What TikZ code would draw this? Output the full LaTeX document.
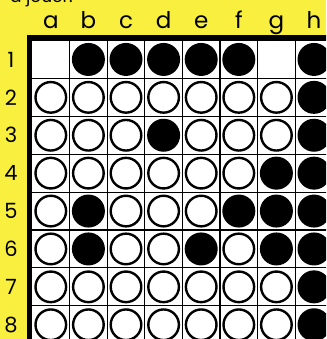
\documentclass[tikz,border=0pt]{standalone}
\usepackage{fontspec}
\setmainfont{Poppins}
\definecolor{cardyellow}{RGB}{249,239,62}
\tikzset{
  whitedisk/.style={circle, draw=black, fill=white, line width=2.4pt,
    minimum size=30.6pt, inner sep=0pt},
  blackdisk/.style={circle, fill=black, minimum size=33pt, inner sep=0pt},
  coordlabel/.style={font=\fontsize{21}{21}\selectfont, text=black, inner sep=0pt},
  gridline/.style={line width=1.1pt, black}
}
\begin{document}
\begin{tikzpicture}[x=1pt, y=-1pt]
  \useasboundingbox (0,0) rectangle (326,339);
  \clip (0,0) rectangle (326,339);
  \fill[cardyellow] (0,0) rectangle (326,339);
  %% 0 = empty square, 1 = white disk, 2 = black disk; rows 1..8, columns a..h
  \def\board{{
    {0, 2, 2, 2, 2, 2, 0, 2},
    {1, 1, 1, 1, 1, 1, 1, 2},
    {1, 1, 1, 2, 1, 1, 1, 2},
    {1, 1, 1, 1, 1, 1, 2, 2},
    {1, 2, 1, 1, 1, 2, 2, 2},
    {1, 2, 1, 1, 2, 1, 2, 2},
    {1, 1, 1, 1, 1, 1, 1, 2},
    {1, 1, 1, 1, 1, 1, 1, 2}
  }}
  \def\cols{{"a","b","c","d","e","f","g","h"}}

  \def\xo{32}
  \def\yo{40.5}
  \def\cw{37.6}
  \def\ch{37.9}

  %% caption line, only its lower part is left on the card
  \node[anchor=base west, font=\fontsize{17}{17}\selectfont, inner sep=0pt]
    (caption) at (10, 2.5) {à jouer.};

  %% the board and its grid
  \fill[white] (\xo, \yo) rectangle (\xo + 8*\cw, \yo + 8*\ch);
  \foreach \i in {1,...,7} {
    \draw[gridline] (\xo + \i*\cw, \yo) -- (\xo + \i*\cw, \yo + 8*\ch);
    \draw[gridline] (\xo, \yo + \i*\ch) -- (\xo + 8*\cw, \yo + \i*\ch);
  }
  \draw[line width=5.5pt] (\xo - 2.7, \yo + 8*\ch) |- (\xo + 8*\cw, \yo - 2.7);

  %% disks
  \foreach \r in {0,...,7} {
    \foreach \c in {0,...,7} {
      \pgfmathtruncatemacro{\val}{\board[\r][\c]}
      \ifnum\val=1
        \node[whitedisk] (disk-\r-\c) at (\xo + \c*\cw + 0.5*\cw, \yo + \r*\ch + 0.5*\ch) {};
      \fi
      \ifnum\val=2
        \node[blackdisk] (disk-\r-\c) at (\xo + \c*\cw + 0.5*\cw, \yo + \r*\ch + 0.5*\ch) {};
      \fi
    }
  }

  %% column letters above, row numbers on the left
  \foreach \c in {0,...,7} {
    \pgfmathsetmacro{\lab}{\cols[\c]}
    \node[coordlabel, font=\fontsize{23}{23}\selectfont, anchor=base]
      (col-\c) at (\xo + \c*\cw + 0.5*\cw, 29) {\lab};
  }
  \foreach \r [evaluate=\r as \num using int(\r+1)] in {0,...,7} {
    \node[coordlabel] (row-\r) at (11, \yo + \r*\ch + 0.5*\ch) {\num};
  }
\end{tikzpicture}
\end{document}
